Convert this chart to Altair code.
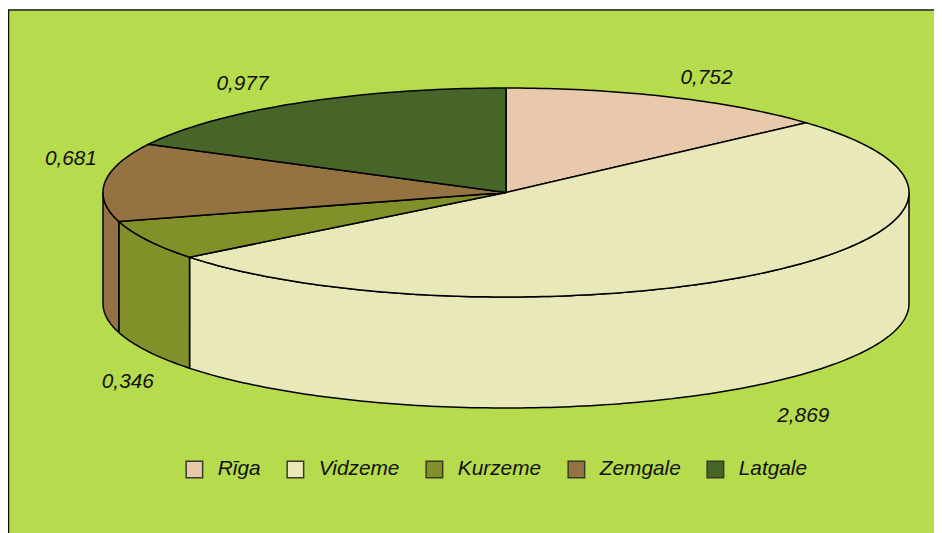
import numpy as np
import pandas as pd
import altair as alt

regions = ["Rīga", "Vidzeme", "Kurzeme", "Zemgale", "Latgale"]
values = [0.752, 2.869, 0.346, 0.681, 0.977]
value_labels = ["0,752", "2,869", "0,346", "0,681", "0,977"]
colors = ["#E8C9AB", "#E8E8B9", "#82902A", "#957242", "#476528"]

# layout of the tilted pie, in page pixels
CX, CY, RX, RY, DEPTH = 506.0, 192.5, 403.0, 104.5, 111.0
W, H = 926, 525
LABEL_K = [(1.22, 1.20), (1.146, 2.80), (1.055, 3.96), (1.085, 3.24), (1.26, 1.215)]

total = sum(values)
edges = np.concatenate([[0], np.cumsum(values)]) / total * 360.0


def px(a, r=1.0):
    return CX + RX * r * np.sin(np.radians(a))


def py(a, r=1.0):
    return CY - RY * r * np.cos(np.radians(a))


def arc(a0, a1):
    n = max(int(abs(a1 - a0)) + 2, 3)
    return np.linspace(a0, a1, n)


tops, sides, labels = [], [], []
for i, name in enumerate(regions):
    a0, a1 = edges[i], edges[i + 1]
    ang = arc(a0, a1)
    xs = [CX] + list(px(ang)) + [CX]
    ys = [CY] + list(py(ang)) + [CY]
    for s, (x, y) in enumerate(zip(xs, ys)):
        tops.append({"region": name, "seq": s, "x": x, "y": y})
    lo, hi = max(a0, 90.0), min(a1, 270.0)
    if lo < hi:
        ang = arc(lo, hi)
        xs = list(px(ang)) + list(px(ang[::-1])) + [px(lo)]
        ys = list(py(ang)) + list(py(ang[::-1]) + DEPTH) + [py(lo)]
        for s, (x, y) in enumerate(zip(xs, ys)):
            sides.append({"region": name, "seq": s, "x": x, "y": y})
    mid = (a0 + a1) / 2
    kx, ky = LABEL_K[i]
    labels.append({"region": name, "text": value_labels[i],
                   "x": float(px(mid, kx)), "y": float(py(mid, ky))})

xs_scale = alt.Scale(domain=[8, 8 + W], nice=False, zero=False)
ys_scale = alt.Scale(domain=[8 + H, 8], nice=False, zero=False)
X = alt.X("x:Q", scale=xs_scale, axis=None)
Y = alt.Y("y:Q", scale=ys_scale, axis=None)

fill = alt.Fill(
    "region:N",
    scale=alt.Scale(domain=regions, range=colors),
    legend=alt.Legend(
        orient="none", legendX=176, legendY=451, direction="horizontal", columns=5,
        title=None, symbolType="square", symbolSize=272,
        symbolStrokeColor="#3a3a2a", symbolStrokeWidth=1.5, symbolOpacity=1,
        labelFont="Liberation Sans", labelFontStyle="italic", labelFontSize=20.8,
        labelColor="#111111", labelOffset=13, columnPadding=23, padding=0,
        labelLimit=200, gridAlign="none",
    ),
)

bg = alt.Chart(pd.DataFrame({"x": [8], "x2": [8 + W], "y": [10], "y2": [8 + H]})).mark_rect(
    color="#B6DB4C").encode(x=X, x2="x2:Q", y=Y, y2="y2:Q")
top_rule = alt.Chart(pd.DataFrame({"x": [8], "x2": [8 + W], "y": [10]})).mark_rule(
    color="#4f4f40", strokeWidth=2).encode(x=X, x2="x2:Q", y=Y)
left_rule = alt.Chart(pd.DataFrame({"x": [8.5], "y": [10], "y2": [8 + H]})).mark_rule(
    color="#111111", strokeWidth=1.5).encode(x=X, y=Y, y2="y2:Q")

side_layer = alt.Chart(pd.DataFrame(sides)).mark_line(
    filled=True, stroke="black", strokeWidth=1.5, strokeJoin="round").encode(
    x=X, y=Y, fill=fill, detail="region:N", order="seq:Q")
top_layer = alt.Chart(pd.DataFrame(tops)).mark_line(
    filled=True, stroke="black", strokeWidth=1.5, strokeJoin="round").encode(
    x=X, y=Y, fill=fill, detail="region:N", order="seq:Q")
text_layer = alt.Chart(pd.DataFrame(labels)).mark_text(
    font="Liberation Sans", fontStyle="italic", fontSize=20.8, color="#111111",
    align="center", baseline="middle").encode(x=X, y=Y, text="text:N")

chart = alt.layer(bg, top_rule, left_rule, side_layer, top_layer, text_layer).properties(
    width=W, height=H, padding=0, autosize=alt.AutoSizeParams(type="none"),
    background="white",
).configure_view(stroke=None)

chart.save("out.html", embed_options={"renderer": "svg", "actions": False})
